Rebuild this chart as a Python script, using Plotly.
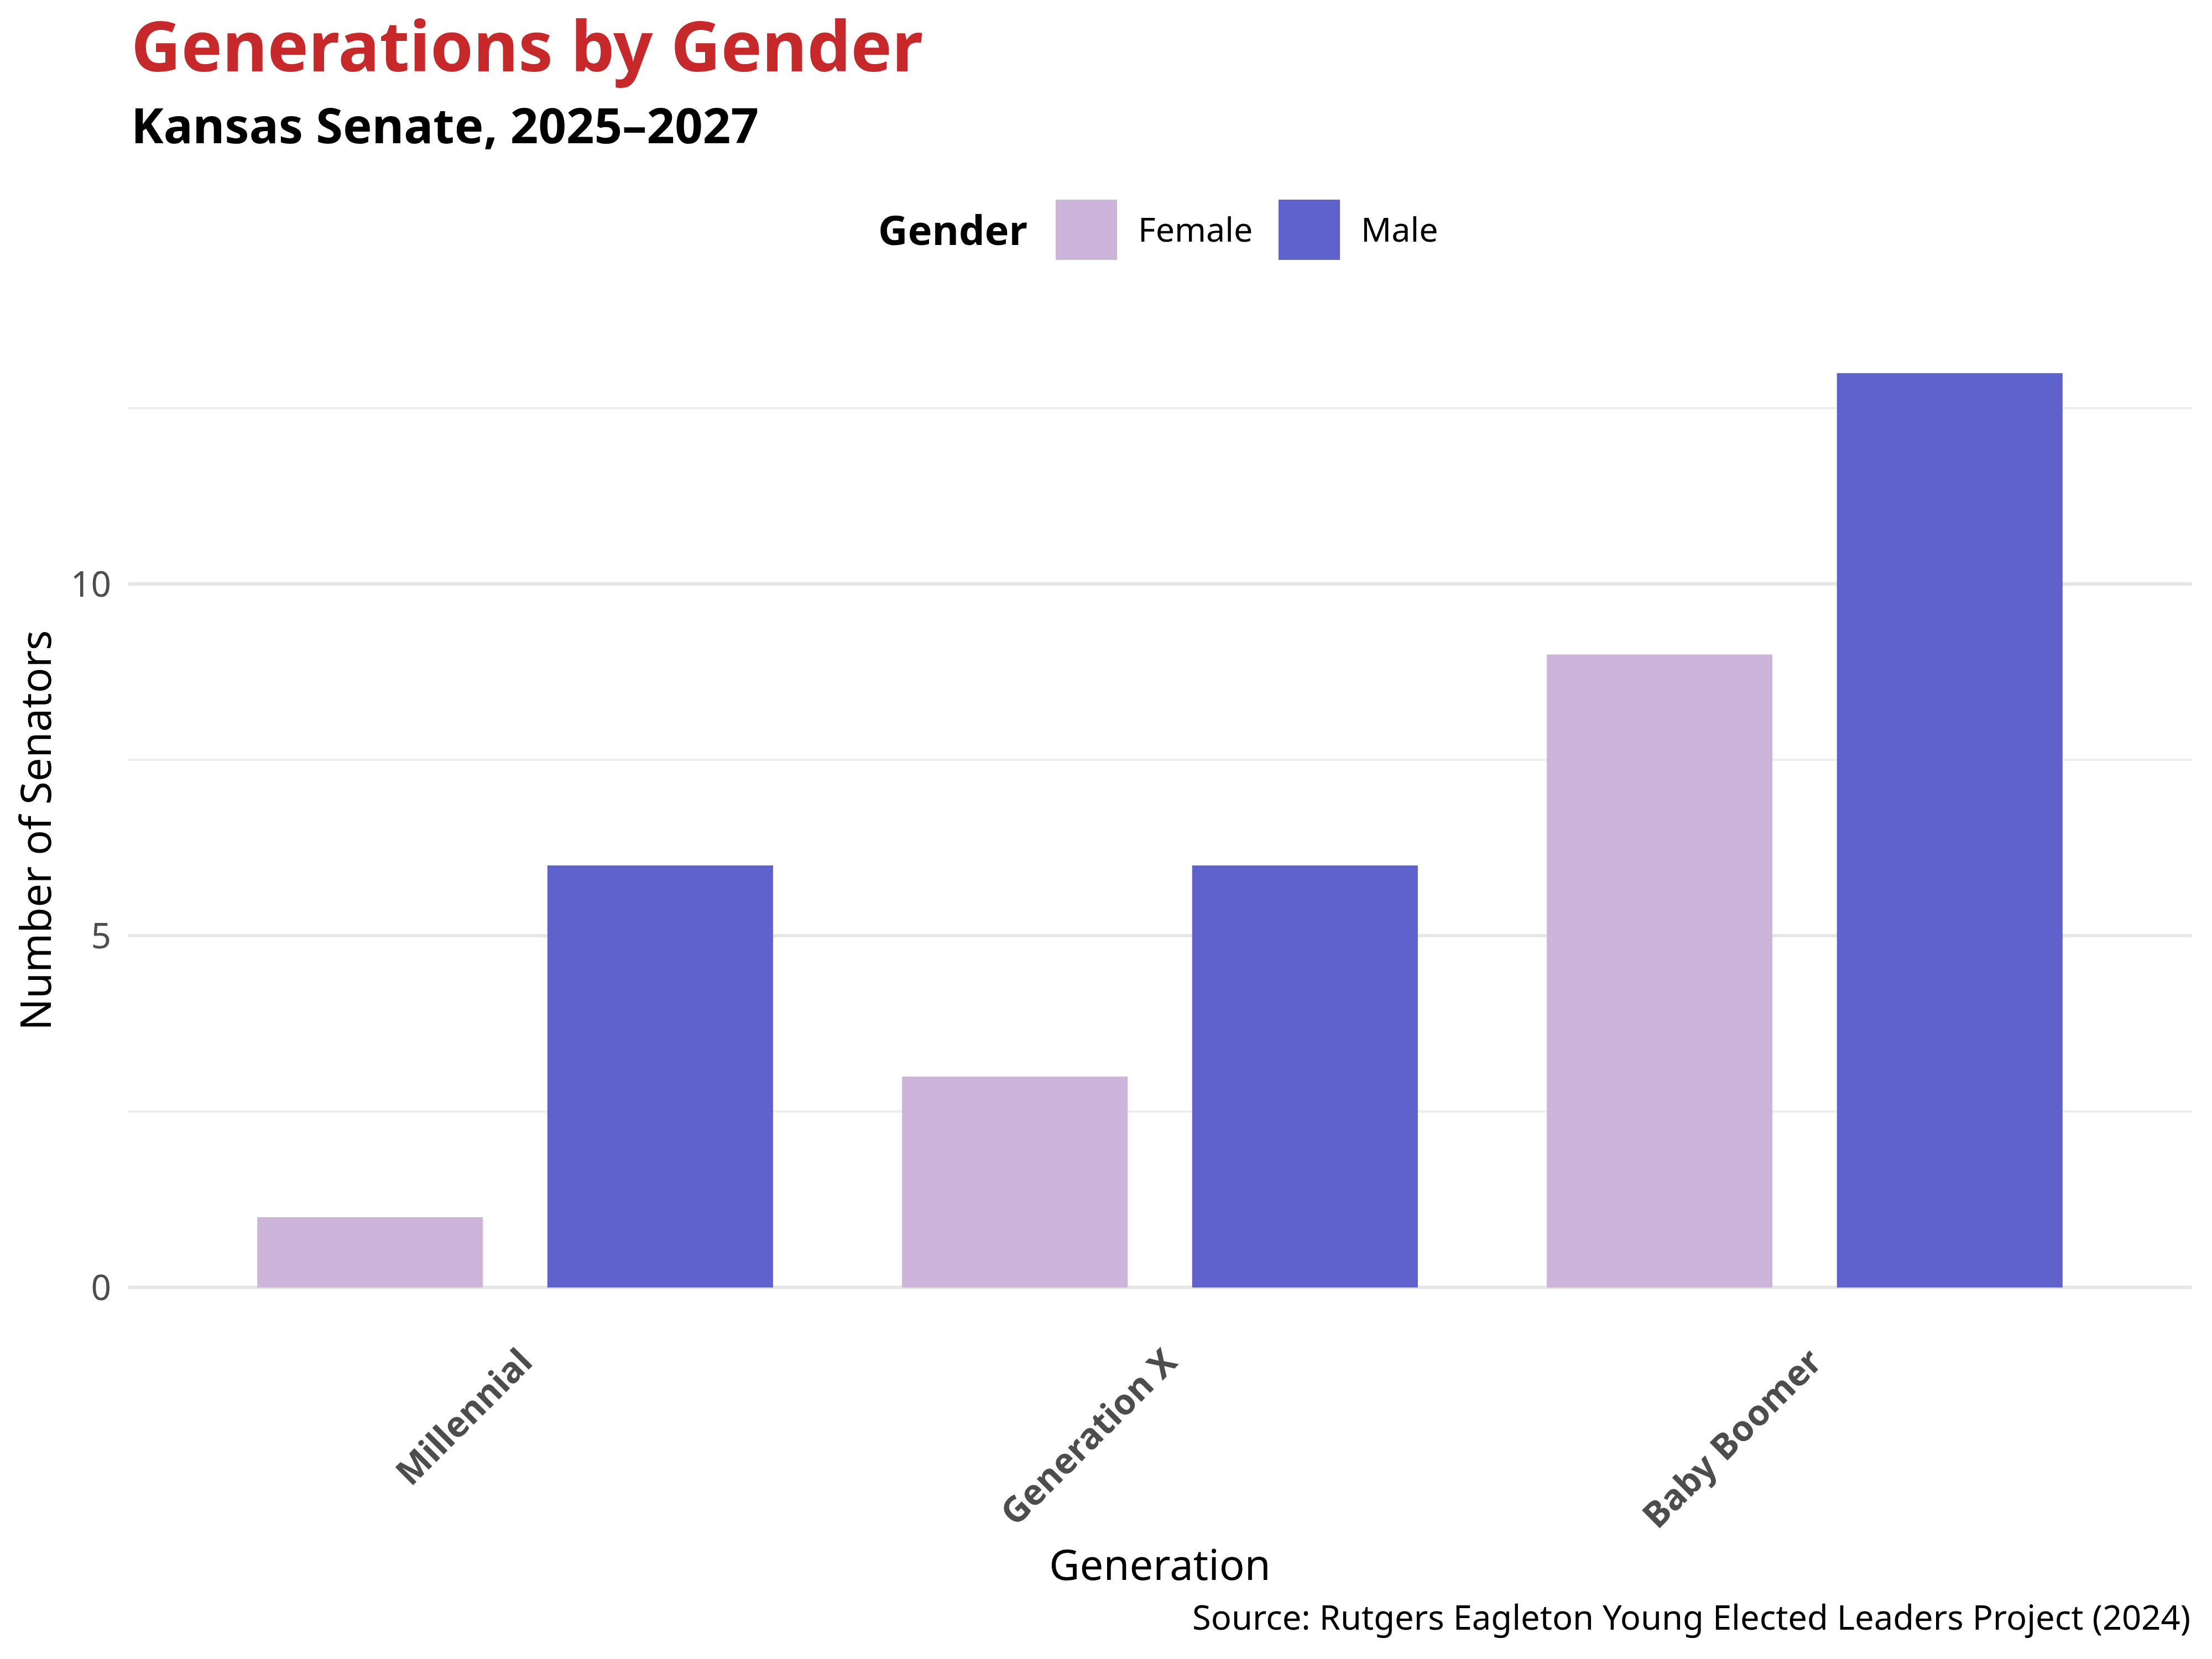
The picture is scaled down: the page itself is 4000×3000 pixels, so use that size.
import plotly.graph_objects as go

# ---- data ----
generations = ["Millennial", "Generation X", "Baby Boomer"]
female_counts = [1, 3, 9]
male_counts = [6, 6, 13]
genders = ["Female", "Male"]
colors = {"Female": "#CDB4DB", "Male": "#5F61CD"}

OFF = 8  # default page body margin
W, H = 4000 - OFF, 3000 - OFF
L, T = 232 - OFF, 592 - OFF
R = W - (3963 - OFF)
B = H - (2411 - OFF)
PW, PH = W - L - R, H - T - B


def px(xp):
    # page pixel x -> paper coordinate
    return (xp - OFF - L) / PW


def py(yp):
    # page pixel y -> paper coordinate
    return (H - B - (yp - OFF)) / PH


FONT = "Noto Sans"

fig = go.Figure()
fig.add_trace(go.Bar(x=generations, y=female_counts, name="Female",
                     marker=dict(color=colors["Female"], line=dict(width=0)),
                     showlegend=False))
fig.add_trace(go.Bar(x=generations, y=male_counts, name="Male",
                     marker=dict(color=colors["Male"], line=dict(width=0)),
                     showlegend=False))

annotations = [
    dict(text="<b>Generations by Gender</b>", x=px(235), y=py(80), xref="paper", yref="paper",
         xanchor="left", yanchor="middle", showarrow=False,
         font=dict(family=FONT, size=125, color="#C7282A")),
    dict(text="<b>Kansas Senate, 2025–2027</b>", x=px(235), y=py(224), xref="paper", yref="paper",
         xanchor="left", yanchor="middle", showarrow=False,
         font=dict(family=FONT, size=88.5, color="#000000")),
    dict(text="<b>Gender</b>", x=px(1586), y=py(414), xref="paper", yref="paper",
         xanchor="left", yanchor="middle", showarrow=False,
         font=dict(family=FONT, size=74, color="#000000")),
    dict(text="Source: Rutgers Eagleton Young Elected Leaders Project (2024)", x=1.0, y=py(2923),
         xref="paper", yref="paper", xanchor="right", yanchor="middle", showarrow=False,
         font=dict(family=FONT, size=61.5, color="#000000")),
]

shapes = []
sw_left = {"Female": 1909, "Male": 2312}
for g in genders:
    x0 = sw_left[g]
    shapes.append(dict(type="rect", xref="paper", yref="paper",
                       x0=px(x0), x1=px(x0 + 111), y0=py(470), y1=py(361),
                       fillcolor=colors[g], line=dict(width=0)))
    annotations.append(dict(text=g, x=px(x0 + 111 + 36), y=py(413), xref="paper", yref="paper",
                            xanchor="left", yanchor="middle", showarrow=False,
                            font=dict(family=FONT, size=61, color="#000000")))

fig.update_layout(
    width=W, height=H,
    margin=dict(l=L, r=R, t=T, b=B, pad=0),
    paper_bgcolor="white", plot_bgcolor="white",
    barmode="group", bargap=0.1, bargroupgap=0.2222,
    font=dict(family=FONT, color="#000000"),
    annotations=annotations, shapes=shapes,
    showlegend=False,
    xaxis=dict(
        type="category", range=[-0.6, 2.6], showgrid=False, zeroline=False, showline=False,
        ticks="", tickangle=-45, ticklabelshift=12,
        tickfont=dict(family=FONT, size=64, color="#4D4D4D", weight="bold"),
        title=dict(text="Generation", font=dict(family=FONT, size=76, color="#000000"), standoff=0),
    ),
    yaxis=dict(
        range=[-0.65, 13.65], tickmode="linear", tick0=0, dtick=5,
        showgrid=True, gridcolor="#E6E6E6", gridwidth=6,
        minor=dict(tickmode="linear", tick0=0, dtick=2.5, showgrid=True, gridcolor="#EEEEEE", gridwidth=3.5),
        zeroline=False, showline=False, ticks="", ticklabelstandoff=30,
        tickfont=dict(family=FONT, size=64, color="#4D4D4D"),
        title=dict(text="Number of Senators", font=dict(family=FONT, size=76, color="#000000"), standoff=10),
    ),
)

fig.write_html("out.html")
